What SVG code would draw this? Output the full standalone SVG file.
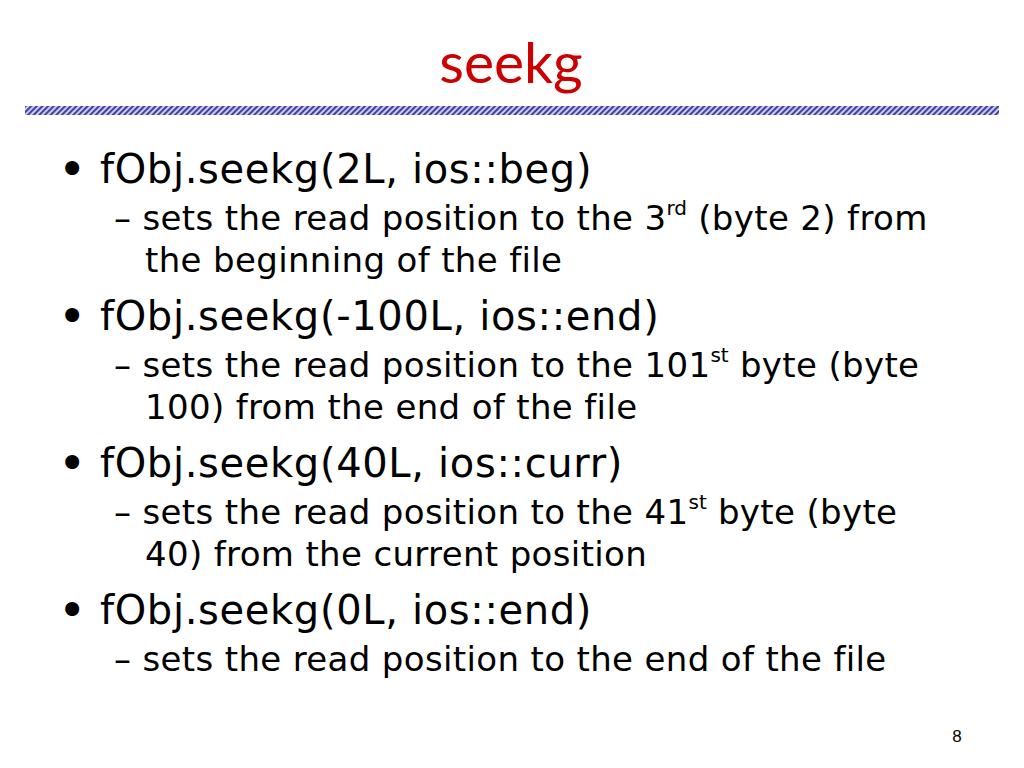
<svg xmlns="http://www.w3.org/2000/svg" width="1024" height="768" viewBox="0 0 1024 768">
<defs>
<pattern id="hatch" patternUnits="userSpaceOnUse" width="4" height="4" patternTransform="rotate(45)">
<rect width="4" height="4" fill="#dcdcf2"/>
<rect width="2.2" height="4" fill="#4040aa"/>
</pattern>
<style>
.title{font-size:57px;fill:#cc0000}
.dot{font-size:48px;fill:#000}
.b{font-size:40px;letter-spacing:0.65px;fill:#000}
.s{font-size:34px;letter-spacing:0.35px;fill:#000}
.sup{font-size:20px;letter-spacing:0}
.pg{font-size:17px;fill:#000}
</style>
</defs>
<rect width="1024" height="768" fill="#fff"/>
<g id="title"><text class="title" font-family="Lato, Open Sans, sans-serif" x="511" y="83" text-anchor="middle">seekg</text></g>
<g id="rule"><rect x="25" y="106" width="974" height="9" fill="url(#hatch)"/></g>
<g id="content" font-family="DejaVu Sans, sans-serif">
<text class="dot" x="58" y="186">•</text>
<text class="b" x="100" y="183">fObj.seekg(2L, ios::beg)</text>
<text class="s" x="114" y="230">– sets the read position to the 3<tspan class="sup" dy="-15">rd</tspan><tspan dy="15"> (byte 2) from</tspan></text>
<text class="s" x="145" y="272">the beginning of the file</text>
<text class="dot" x="58" y="333">•</text>
<text class="b" x="100" y="330">fObj.seekg(-100L, ios::end)</text>
<text class="s" x="114" y="377">– sets the read position to the 101<tspan class="sup" dy="-15">st</tspan><tspan dy="15"> byte (byte</tspan></text>
<text class="s" x="145" y="419">100) from the end of the file</text>
<text class="dot" x="58" y="480">•</text>
<text class="b" x="100" y="477">fObj.seekg(40L, ios::curr)</text>
<text class="s" x="114" y="524">– sets the read position to the 41<tspan class="sup" dy="-15">st</tspan><tspan dy="15"> byte (byte</tspan></text>
<text class="s" x="145" y="566">40) from the current position</text>
<text class="dot" x="58" y="627">•</text>
<text class="b" x="100" y="624">fObj.seekg(0L, ios::end)</text>
<text class="s" x="114" y="671">– sets the read position to the end of the file</text>
</g>
<g id="page"><text class="pg" font-family="Liberation Sans, Arial, sans-serif" x="957" y="742" text-anchor="middle">8</text></g>
</svg>
